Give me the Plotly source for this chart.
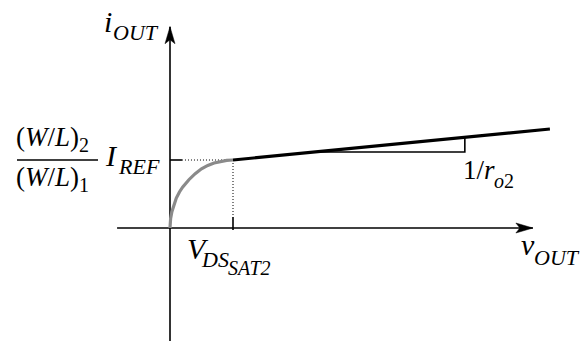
import numpy as np
import plotly.graph_objects as go

# ---- data (normalised units: V_DSSAT2 = 1, (W/L)2/(W/L)1 * I_REF = 1) ----
v_sat = 1.0
i_sat = 1.0

# triode region (grey curve), read point by point
v_triode = [0.0, 0.01, 0.03, 0.06, 0.10, 0.15, 0.20, 0.30, 0.40, 0.50, 0.60, 0.70, 0.80, 0.90, 1.00]
i_triode = [0.0, 0.14, 0.24, 0.34, 0.44, 0.53, 0.60, 0.71, 0.80, 0.87, 0.92, 0.955, 0.98, 0.995, 1.00]

# saturation region (black line with slope 1/r_o2)
v_line = [1.0, 6.03]
i_line = [1.0, 1.456]

# slope triangle corners along the saturation line
v_tri = [2.30, 4.68]

# axis extents
x_axis = [-0.84, 5.76]
y_axis = [-1.75, 2.96]

W, H = 582, 341
XR = [-2.6984, 6.5397]
YR = [-1.6618, 3.3529]

FONT = "Liberation Serif"
ASC, DESC = 0.891, 0.216   # font ascent / descent in em

fig = go.Figure()

def line(xs, ys, color="black", width=1.5, dash="solid"):
    fig.add_trace(go.Scatter(x=xs, y=ys, mode="lines", hoverinfo="skip",
                             line=dict(color=color, width=width, dash=dash),
                             showlegend=False))

# axes
line(x_axis, [0, 0], width=1.6)
line([0, 0], y_axis, width=1.6)

# guide lines at the saturation point
line([0, 0.19], [i_sat, i_sat], width=1.6)
line([0.19, v_sat], [i_sat, i_sat], width=1, dash="1px,2px")
line([v_sat, v_sat], [i_sat, 0.16], width=1, dash="1px,2px")
line([v_sat, v_sat], [0.16, -0.03], width=1.6)

# triode curve and saturation line
line(v_triode, i_triode, color="#8a8a8a", width=3.2)
line(v_line, i_line, color="black", width=3.2)

# slope triangle
i_tri = np.interp(v_tri, v_line, i_line)
line([v_tri[0], v_tri[1], v_tri[1]], [i_tri[0], i_tri[0], i_tri[1]], width=1.6)

# arrowheads (pixel-sized paths anchored at axis ends)
fig.add_shape(type="path", xref="x", yref="y", xsizemode="pixel", ysizemode="pixel",
              xanchor=x_axis[1], yanchor=0,
              path="M 0 0 L -17 5 L -13 0 L -17 -5 Z",
              fillcolor="black", line=dict(color="black", width=0.5))
fig.add_shape(type="path", xref="x", yref="y", xsizemode="pixel", ysizemode="pixel",
              xanchor=0, yanchor=y_axis[1],
              path="M 0 0 L 5 -17 L 0 -13 L -5 -17 Z",
              fillcolor="black", line=dict(color="black", width=0.5))


def text(s, x, baseline, size):
    """Place a text with its left edge at pixel x and its baseline at pixel y."""
    cy = baseline - (ASC - DESC) / 2 * size
    fig.add_annotation(x=x / W, y=1 - cy / H, xref="paper", yref="paper", text=s,
                       showarrow=False, xanchor="left", yanchor="middle", borderpad=0,
                       font=dict(family=FONT, size=size, color="black"))

# i_OUT
text("<i>i</i>", 103, 32, 30)
text("<i>OUT</i>", 112, 40, 22)

# (W/L)2 / (W/L)1 · I_REF
text("(<i>W</i>/<i>L</i>)", 15, 146, 27)
text("2", 78, 152, 20)
text("(<i>W</i>/<i>L</i>)", 15, 186, 27)
text("1", 78, 192, 20)
fig.add_shape(type="line", xref="paper", yref="paper",
              x0=17 / W, x1=98 / W, y0=1 - 160 / H, y1=1 - 160 / H,
              line=dict(color="black", width=1.3))
text("<i>I</i>", 104, 166, 30)
text("<i>REF</i>", 117, 174, 22)

# V_DS_SAT2
text("<i>V</i>", 186, 259, 30)
text("<i>DS</i>", 200, 267, 22)
text("<i>SAT2</i>", 227, 275, 20)

# v_OUT
text("<i>v</i>", 520, 255, 30)
text("<i>OUT</i>", 533, 265, 22)

# 1/r_o2
text("1/<i>r</i>", 462, 179, 27)
text("<i>o</i>2", 493, 188, 20)

fig.update_layout(width=W, height=H, margin=dict(l=0, r=0, t=0, b=0),
                  paper_bgcolor="white", plot_bgcolor="white",
                  xaxis=dict(range=XR, visible=False, fixedrange=True),
                  yaxis=dict(range=YR, visible=False, fixedrange=True),
                  showlegend=False)

fig.write_html("out.html")
